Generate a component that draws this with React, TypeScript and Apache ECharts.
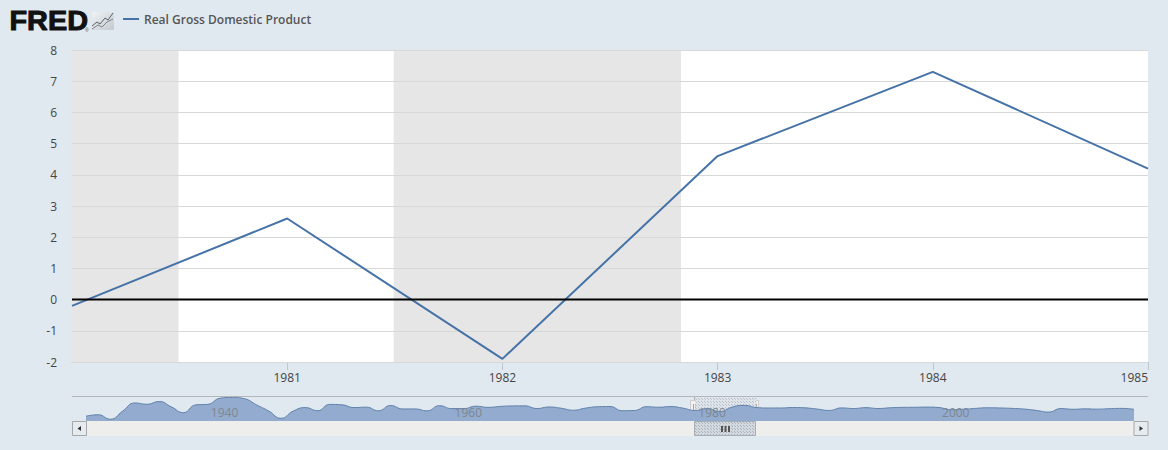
import React, { useEffect, useRef } from "react";
import * as echarts from "echarts";

const seriesName = "Real Gross Domestic Product";
const years = [1980, 1981, 1982, 1983, 1984, 1985];
const gdp = [-0.2, 2.6, -1.9, 4.6, 7.3, 4.2];
const yearTicks = [1981, 1982, 1983, 1984, 1985];
const recessions = [
  [1980, 1980.495],
  [1981.495, 1982.83],
];
const navStartYear = 1930;
const navLabelYears = [1940, 1960, 1980, 2000];
const navValues = [
  -8.5, -6.4, -12.9, -1.2, 10.8, 8.9, 12.9, 5.1, -3.3, 8.0,
  8.8, 17.7, 18.9, 17.0, 8.0, -1.0, -11.6, -1.1, 4.1, -0.5,
  8.7, 8.1, 4.1, 4.7, -0.6, 7.1, 2.1, 2.1, -0.7, 6.9,
  2.6, 2.6, 6.1, 4.4, 5.8, 6.5, 6.6, 2.7, 4.9, 3.1,
  0.2, 3.3, 5.3, 5.6, -0.5, -0.2, 5.4, 4.6, 5.5, 3.2,
  -0.2, 2.6, -1.9, 4.6, 7.3, 4.2, 3.5, 3.5, 4.2, 3.7,
  1.9, -0.1, 3.6, 2.7, 4.0, 2.7, 3.8, 4.4, 4.5, 4.8,
  4.1, 1.0, 1.7, 2.9, 3.8, 3.5, 2.9, 1.9, -0.1, -2.5,
  2.6, 1.6, 2.2, 1.8, 2.5, 2.9, 1.6,
];

const FONT = "'Open Sans', sans-serif";
const BG = "#e1e9f0";

function dotPattern(bg: string, dot: string) {
  const c = document.createElement("canvas");
  c.width = 3;
  c.height = 3;
  const g = c.getContext("2d")!;
  g.fillStyle = bg;
  g.fillRect(0, 0, 3, 3);
  g.fillStyle = dot;
  g.fillRect(0, 0, 1, 1);
  g.fillRect(2, 2, 1, 1);
  return { image: c, repeat: "repeat" };
}

function chrome(): any[] {
  const hatch = dotPattern("#d4d9df", "#aab2bb");
  const btn = (x: number, pts: number[][]) => [
    { type: "rect", shape: { x: x + 0.5, y: 421.5, width: 14, height: 14 }, style: { fill: "#e6ebf0", stroke: "#a8a8a8", lineWidth: 1 } },
    { type: "polygon", shape: { points: pts }, style: { fill: "#333" } },
  ];
  const handle = (x: number) => [
    { type: "line", shape: { x1: x + 0.5, y1: 397, x2: x + 0.5, y2: 400 }, style: { stroke: "#b0b0b0", lineWidth: 1 } },
    { type: "rect", shape: { x: x - 3.5, y: 400.5, width: 7, height: 15 }, style: { fill: "#f2f2f2", stroke: "#cccccc", lineWidth: 1 } },
    { type: "line", shape: { x1: x - 0.5, y1: 404, x2: x - 0.5, y2: 412 }, style: { stroke: "#a0a0a0", lineWidth: 1 } },
    { type: "line", shape: { x1: x + 1.5, y1: 404, x2: x + 1.5, y2: 412 }, style: { stroke: "#a0a0a0", lineWidth: 1 } },
  ];
  return [
    { type: "text", x: 9.5, y: 6, scaleX: 1.03, style: { text: "FRED", fill: "#111", stroke: "#111", lineWidth: 1, font: "bold 28px 'Liberation Sans', sans-serif" } },
    { type: "text", x: 85, y: 27, style: { text: "®", fill: "#555", font: "5px 'Liberation Sans', sans-serif" } },
    {
      type: "rect",
      shape: { x: 92, y: 12, width: 22, height: 18 },
      style: {
        fill: { type: "linear", x: 0, y: 0, x2: 1, y2: 1, colorStops: [{ offset: 0, color: "#f0f2f4" }, { offset: 1, color: "#c4cad0" }] },
      },
    },
    { type: "polyline", shape: { points: [[92, 26], [97, 22], [100, 24], [105, 18], [108, 20], [113, 13]] }, style: { fill: "none", stroke: "#5a626c", lineWidth: 1 } },
    { type: "polyline", shape: { points: [[92, 29], [98, 25], [102, 27], [107, 22], [113, 19]] }, style: { fill: "none", stroke: "#7a828a", lineWidth: 1 } },
    { type: "line", shape: { x1: 72, y1: 396.5, x2: 1148, y2: 396.5 }, style: { stroke: "#b4b8bc", lineWidth: 1 } },
    { type: "rect", shape: { x: 86, y: 421, width: 1048, height: 15 }, style: { fill: "#eeeeec" } },
    ...btn(72, [[81, 426], [81, 431], [77.5, 428.5]]),
    ...btn(1133.5, [[1139.5, 426], [1139.5, 431], [1143, 428.5]]),
    { type: "rect", shape: { x: 694.5, y: 421.5, width: 61, height: 14 }, style: { fill: hatch, stroke: "#a8aeb5", lineWidth: 1 } },
    { type: "rect", shape: { x: 721, y: 426, width: 2, height: 6 }, style: { fill: "#555" } },
    { type: "rect", shape: { x: 724.5, y: 426, width: 2, height: 6 }, style: { fill: "#555" } },
    { type: "rect", shape: { x: 728, y: 426, width: 2, height: 6 }, style: { fill: "#555" } },
    ...handle(694),
    ...handle(755),
  ];
}

export default function App() {
  const ref = useRef<HTMLDivElement>(null);
  useEffect(() => {
    document.body.style.margin = "0";
    const chart = echarts.init(ref.current!, null, { renderer: "svg" });
    const navData = navValues.map((v, i) => [navStartYear + i, v]);
    chart.setOption({
      animation: false,
      backgroundColor: BG,
      textStyle: { fontFamily: FONT },
      legend: {
        left: 123,
        top: 13,
        padding: 0,
        itemWidth: 16,
        itemHeight: 24,
        itemGap: 5,
        icon: "path://M0 11H16V13H0Z",
        data: [seriesName],
        textStyle: { color: "#555", fontSize: 12, fontWeight: 600, fontFamily: FONT, padding: [0, 0, 0, 0] },
      },
      grid: [
        { left: 72, right: 20, top: 50, height: 312, backgroundColor: "#fff", show: true, borderWidth: 0 },
        { left: 86, right: 34, top: 397, height: 24, show: false },
      ],
      xAxis: [
        {
          type: "value",
          gridIndex: 0,
          min: 1980,
          max: 1985,
          interval: 1,
          splitLine: { show: false },
          axisLine: { onZero: false, lineStyle: { color: "#c0c6cc" } },
          axisTick: { length: 8, lineStyle: { color: "#c0c6cc" }, customValues: yearTicks },
          axisLabel: {
            customValues: yearTicks,
            alignMaxLabel: "right",
            color: "#444",
            fontSize: 12,
            margin: 9,
            fontFamily: FONT,
            formatter: (v: number) => String(v),
          },
        },
        {
          type: "value",
          gridIndex: 1,
          min: navStartYear,
          max: navStartYear + navValues.length - 1,
          interval: 10,
          z: 5,
          splitLine: { show: false },
          axisLine: { show: false, onZero: false },
          axisTick: { show: false },
          axisLabel: {
            inside: true,
            customValues: navLabelYears,
            align: "left",
            padding: [0, 0, 0, 3],
            color: "#7f8790",
            fontSize: 12,
            margin: 3,
            fontFamily: FONT,
            formatter: (v: number) => String(v),
          },
        },
      ],
      yAxis: [
        {
          type: "value",
          gridIndex: 0,
          min: -2,
          max: 8,
          interval: 1,
          z: 2,
          axisLine: { show: false },
          axisTick: { show: false },
          splitLine: { show: true, lineStyle: { color: "#d8d8d8", width: 1 } },
          axisLabel: { color: "#444", fontSize: 12, margin: 15, fontFamily: FONT },
        },
        {
          type: "value",
          gridIndex: 1,
          min: -15.5,
          max: 19.5,
          show: false,
          splitLine: { show: false },
        },
      ],
      series: [
        {
          name: "Recessions",
          type: "line",
          xAxisIndex: 0,
          yAxisIndex: 0,
          z: 1,
          data: [],
          markArea: {
            silent: true,
            itemStyle: { color: "#e6e6e6" },
            data: recessions.map(([a, b]) => [{ xAxis: a }, { xAxis: b }]),
          },
        },
        {
          name: seriesName,
          type: "line",
          xAxisIndex: 0,
          yAxisIndex: 0,
          z: 5,
          symbol: "none",
          lineStyle: { color: "#4572a7", width: 2 },
          itemStyle: { color: "#4572a7" },
          data: years.map((y, i) => [y, gdp[i]]),
        },
        {
          name: "Zero",
          type: "line",
          xAxisIndex: 0,
          yAxisIndex: 0,
          z: 6,
          symbol: "none",
          lineStyle: { color: "#000", width: 2 },
          data: [[years[0], 0], [years[years.length - 1], 0]],
        },
        {
          name: "Selection",
          type: "line",
          xAxisIndex: 1,
          yAxisIndex: 1,
          z: 1,
          data: [],
          markArea: {
            silent: true,
            itemStyle: { color: dotPattern("#dfe4ea", "#b8c0c9") },
            data: [[{ xAxis: 1980 }, { xAxis: 1985 }]],
          },
        },
        {
          name: "Navigator",
          type: "line",
          xAxisIndex: 1,
          yAxisIndex: 1,
          z: 3,
          symbol: "none",
          smooth: true,
          lineStyle: { color: "#5f80aa", width: 1 },
          areaStyle: { color: "#92abcf", opacity: 1, origin: "start" },
          data: navData,
        },
      ],
      graphic: { elements: chrome() },
    });
    return () => chart.dispose();
  }, []);
  return <div ref={ref} style={{ width: 1168, height: 450, overflow: "hidden" }} />;
}
